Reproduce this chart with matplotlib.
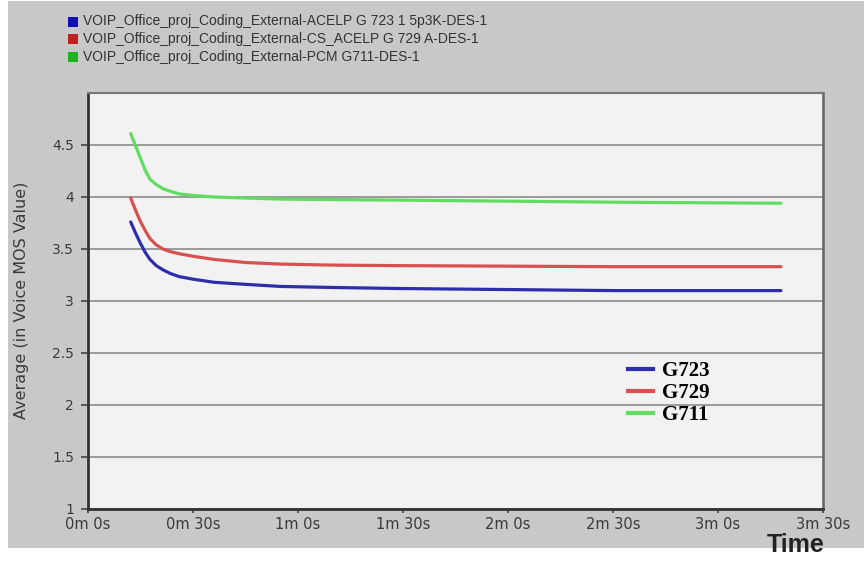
import matplotlib
matplotlib.use("Agg")
import matplotlib.pyplot as plt
from matplotlib.patches import Rectangle
from matplotlib.lines import Line2D

# Simulation time (seconds) and average voice MOS for each codec
time_s = [12.2, 13.5, 14.9, 16.3, 17.7, 19.5, 21.4, 23.5, 26.0, 30.0,
          36.0, 45.0, 55.0, 70.0, 89.0, 120.0, 150.0, 198.0]
mos_g723 = [3.76, 3.66, 3.56, 3.47, 3.40, 3.34, 3.30, 3.265, 3.235, 3.21,
            3.18, 3.16, 3.14, 3.13, 3.12, 3.11, 3.10, 3.10]
mos_g729 = [3.99, 3.88, 3.77, 3.68, 3.60, 3.54, 3.50, 3.475, 3.455, 3.43,
            3.40, 3.37, 3.355, 3.345, 3.34, 3.335, 3.33, 3.33]
mos_g711 = [4.61, 4.50, 4.38, 4.26, 4.17, 4.12, 4.08, 4.055, 4.03, 4.015,
            4.00, 3.99, 3.98, 3.975, 3.97, 3.96, 3.95, 3.94]

series_names = [
    "VOIP_Office_proj_Coding_External-ACELP G 723 1 5p3K-DES-1",
    "VOIP_Office_proj_Coding_External-CS_ACELP G 729 A-DES-1",
    "VOIP_Office_proj_Coding_External-PCM G711-DES-1",
]
short_names = ["G723", "G729", "G711"]
colors = ["#2e2eaa", "#d85050", "#60dc60"]
key_colors = ["#1010b0", "#c02020", "#20b020"]

x_ticks = [0, 30, 60, 90, 120, 150, 180, 210]
x_tick_labels = ["0m 0s", "0m 30s", "1m 0s", "1m 30s", "2m 0s", "2m 30s", "3m 0s", "3m 30s"]
y_ticks = [1, 1.5, 2, 2.5, 3, 3.5, 4, 4.5]
y_tick_labels = ["1", "1.5", "2", "2.5", "3", "3.5", "4", "4.5"]

W, H = 864, 561
fig = plt.figure(figsize=(W / 100, H / 100), dpi=100, facecolor="white")

# grey panel behind everything
fig.patches.append(Rectangle((8 / W, 13 / H), (W - 8) / W, (H - 14) / H,
                             transform=fig.transFigure, facecolor="#c8c8c8",
                             edgecolor="none", zorder=-5))

ax = fig.add_axes([88 / W, 1 - 509 / H, (823 - 88) / W, (509 - 93) / H])
ax.set_zorder(1)
ax.set_facecolor("#f2f2f2")

for vals, c in zip([mos_g723, mos_g729, mos_g711], colors):
    ax.plot(time_s, vals, color=c, lw=2.3, solid_capstyle="round",
            solid_joinstyle="round", zorder=3)

ax.set_xlim(0, 210)
ax.set_ylim(1, 5)
ax.set_xticks(x_ticks)
ax.set_xticklabels(x_tick_labels, fontsize=10.5, color="#3a3a3a",
                   family="DejaVu Sans")
ax.set_yticks(y_ticks)
ax.set_yticklabels(y_tick_labels, fontsize=10, color="#3a3a3a",
                   family="DejaVu Sans")
ax.tick_params(axis="x", length=3, width=1.2, color="#444444", pad=3)
ax.tick_params(axis="y", length=5, width=1.2, color="#444444", pad=5)
ax.grid(axis="y", color="#9a9a9a", lw=1.4)
ax.set_axisbelow(True)

for side, c, w in [("left", "#333333", 2.0), ("bottom", "#333333", 2.0),
                   ("top", "#777777", 1.5), ("right", "#666666", 1.8)]:
    ax.spines[side].set_color(c)
    ax.spines[side].set_linewidth(w)

fig.text(22 / W, 1 - 300 / H, "Average (in Voice MOS Value)", rotation=90,
         ha="center", va="center", fontsize=11.5, color="#3a3a3a",
         family="DejaVu Sans")

# series key above the plot
for i, (name, c) in enumerate(zip(series_names, key_colors)):
    yc = 1 - (21.5 + 17.5 * i) / H
    fig.patches.append(Rectangle((68 / W, yc - 5 / H), 10 / W, 10 / H,
                                 transform=fig.transFigure, facecolor=c,
                                 edgecolor="none", zorder=2))
    fig.text(83 / W, yc, name, ha="left", va="center", fontsize=10,
             color="#333333", family="Liberation Sans")

# codec legend inside the plot
handles = [Line2D([0], [0], color=c, lw=3) for c in colors]
leg = ax.legend(handles, short_names, loc="upper left",
                bbox_to_anchor=((628 - 88) / (823 - 88), (509 - 361) / (509 - 93)),
                frameon=False, handlelength=1.2, handletextpad=0.45,
                labelspacing=0.1, borderaxespad=0, borderpad=0,
                prop={"family": "Liberation Serif", "weight": "bold", "size": 15})

fig.text(825 / W, 1 - 545 / H, "Time", ha="right", va="center", fontsize=18,
         fontweight="bold", color="#222222", family="Liberation Sans")

fig.savefig("out.png", dpi=100, facecolor="white")
